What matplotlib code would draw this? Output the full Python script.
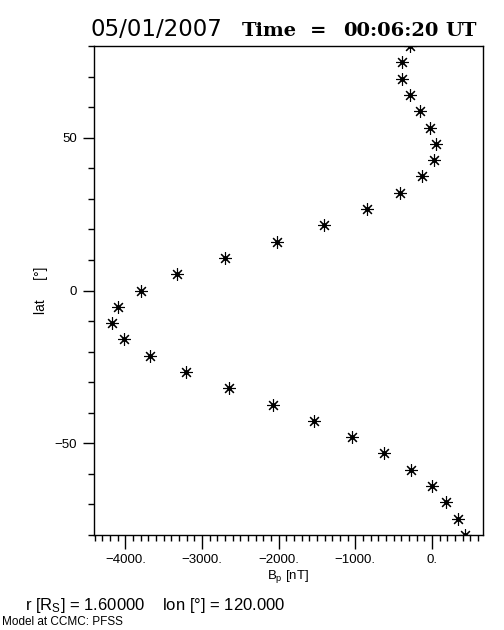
import numpy as np
import matplotlib
matplotlib.use("Agg")
import matplotlib.pyplot as plt
from matplotlib.ticker import MultipleLocator, FuncFormatter

# latitude of each sample [deg] and B_p [nT]
lat = [80.0, 74.67, 69.33, 64.0, 58.67, 53.33, 48.0, 42.67, 37.33, 32.0,
       26.67, 21.33, 16.0, 10.67, 5.33, 0.0, -5.33, -10.67, -16.0, -21.33,
       -26.67, -32.0, -37.33, -42.67, -48.0, -53.33, -58.67, -64.0, -69.33,
       -74.67, -80.0]
bp = [-290, -394, -385, -290, -151, -21, 57, 31, -130, -420,
      -846, -1405, -2025, -2694, -3323, -3800, -4095, -4178, -4022, -3683,
      -3206, -2642, -2069, -1536, -1041, -629, -273, 0, 187, 335, 435]

date_str = "05/01/2007"
time_words = ["Time", "=", "00:06:20", "UT"]
info_str = r"r $[\mathrm{R_S}]$ = 1.60000    lon [°] = 120.000"
model_str = "Model at CCMC: PFSS"

plt.rcParams['font.family'] = ['Liberation Sans', 'DejaVu Sans']
plt.rcParams['mathtext.fontset'] = 'custom'
plt.rcParams['mathtext.rm'] = 'Liberation Sans'

fig = plt.figure(figsize=(5.04, 6.3), dpi=100)
ax = fig.add_axes([94/504, 1 - 535/630, 389/504, 489/630])

ax.plot(bp, lat, linestyle='none', marker=(8, 2, 0), markersize=9,
        markeredgewidth=0.8, color='black')
ax.plot(bp, lat, linestyle='none', marker='o', markersize=2.5, color='black')

rng = max(bp) - min(bp)
ax.set_xlim(min(bp) - 0.05 * rng, max(bp) + 0.05 * rng)
ax.set_ylim(-80, 80)

ax.xaxis.set_major_locator(MultipleLocator(1000))
ax.xaxis.set_minor_locator(MultipleLocator(100))
ax.yaxis.set_major_locator(MultipleLocator(50))
ax.yaxis.set_minor_locator(MultipleLocator(10))
ax.xaxis.set_major_formatter(FuncFormatter(lambda v, p: ("%d." % v).replace('-', '\u2212')))
ax.yaxis.set_major_formatter(FuncFormatter(lambda v, p: ("%d" % v).replace('-', '\u2212')))

ax.tick_params(which='major', direction='out', length=8, width=1, labelsize=9.5, pad=4)
ax.tick_params(which='minor', direction='out', length=4, width=1)
ax.tick_params(axis='x', which='major', length=10)
for s in ax.spines.values():
    s.set_linewidth(1)

ax.set_xlabel(r"B$_\mathrm{p}$ [nT]", fontsize=9.5, labelpad=1)
ax.set_ylabel("lat     [°]", fontsize=10, labelpad=5)

# title: light sans date, bold serif time
fig.text(91/504, 1 - 36/630, date_str, fontsize=16.5, family='DejaVu Sans',
         ha='left', va='baseline')
time_x = [(242, 'left'), (318, 'center'), (343, 'left'), (477, 'right')]
for w, (x, ha) in zip(time_words, time_x):
    fig.text(x/504, 1 - 36/630, w, fontsize=14, fontweight='bold',
             family='DejaVu Serif', ha=ha, va='baseline')

fig.text(25/504, 1 - 610/630, info_str, fontsize=12, ha='left', va='baseline')
fig.text(2/504, 1 - 625/630, model_str, fontsize=8.5, ha='left', va='baseline')

fig.savefig("out.png", dpi=100)
